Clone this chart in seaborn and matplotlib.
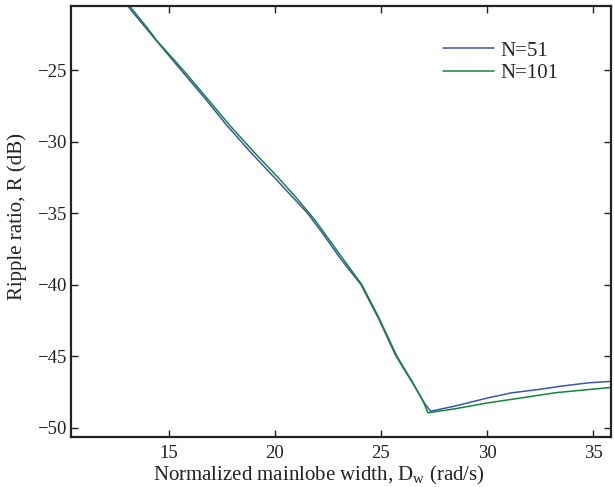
import matplotlib
matplotlib.use("Agg")
import matplotlib.pyplot as plt
import seaborn as sns
import pandas as pd

# N=51 series
x_n51 = [12.5, 13.06, 14.29, 15.5, 16.7, 17.76, 18.9, 20.04, 21.54, 22.2, 23.11, 24.06,
         24.9, 25.71, 26.5, 27.06, 27.34, 28.48, 30.06, 31.16, 32.42, 33.52, 34.79, 35.97]
y_n51 = [-19.5, -20.5, -22.7, -24.85, -26.95, -28.9, -30.8, -32.6, -35.0, -36.3, -38.21, -40.0,
         -42.4, -45.0, -46.9, -48.3, -48.86, -48.5, -47.92, -47.57, -47.34, -47.1, -46.87, -46.76]
# N=101 series
x_n101 = [12.5, 13.1, 13.97, 14.45, 15.6, 16.8, 17.9, 19.0, 20.15, 21.0, 21.9, 23.19,
          24.1, 24.9, 25.75, 26.5, 27.0, 27.22, 28.48, 30.06, 31.64, 33.2, 34.79, 35.97]
y_n101 = [-19.4, -20.4, -22.0, -22.95, -24.85, -26.95, -28.9, -30.7, -32.5, -33.9, -35.5, -38.15,
          -40.0, -42.3, -45.0, -46.85, -48.2, -48.97, -48.69, -48.27, -47.92, -47.57, -47.34, -47.18]
labels = ["N=51", "N=101"]
x_ticks = [15, 20, 25, 30, 35]
y_ticks = [-25, -30, -35, -40, -45, -50]

sns.set_style("ticks")
plt.rcParams['font.family'] = ['Liberation Serif', 'DejaVu Serif']
plt.rcParams['mathtext.fontset'] = 'custom'
plt.rcParams['mathtext.rm'] = 'Liberation Serif'

fig = plt.figure(figsize=(6.14, 4.87), dpi=100)
ax = fig.add_axes([0.115, 0.103, 0.88, 0.885])

df1 = pd.DataFrame({"x": x_n51, "y": y_n51})
df2 = pd.DataFrame({"x": x_n101, "y": y_n101})
sns.lineplot(data=df1, x="x", y="y", ax=ax, color="#3a56ac", lw=1.1, label=labels[0],
             estimator=None, sort=False)
sns.lineplot(data=df2, x="x", y="y", ax=ax, color="#14853c", lw=1.1, label=labels[1],
             estimator=None, sort=False)

ax.set_xlim(10.38, 35.84)
ax.set_ylim(-50.65, -20.5)
ax.set_xticks(x_ticks)
ax.set_yticks(y_ticks)
ax.set_yticklabels(["\u221225", "\u221230", "\u221235", "\u221240", "\u221245", "\u221250"])
ax.tick_params(axis="both", direction="in", length=5, width=1, top=True, right=True,
               labelsize=13.5, colors="#222222")
ax.tick_params(axis="x", pad=6)
ax.tick_params(axis="y", pad=3)
for s in ax.spines.values():
    s.set_linewidth(1.6)
    s.set_color("#222222")

ax.set_xlabel(r"Normalized mainlobe width, D$_\mathrm{w}$ (rad/s)", fontsize=15, color="#222222")
ax.set_ylabel("Ripple ratio, R (dB)", fontsize=15, color="#222222")
ax.xaxis.set_label_coords(0.46, -0.062)
ax.yaxis.set_label_coords(-0.08, 0.512)

leg = ax.legend(loc="upper left", bbox_to_anchor=(0.689, 0.918), frameon=False,
                fontsize=15, handlelength=2.45, handletextpad=0.3, labelspacing=0.14,
                borderpad=0, borderaxespad=0)

fig.savefig("out.png", dpi=100)
